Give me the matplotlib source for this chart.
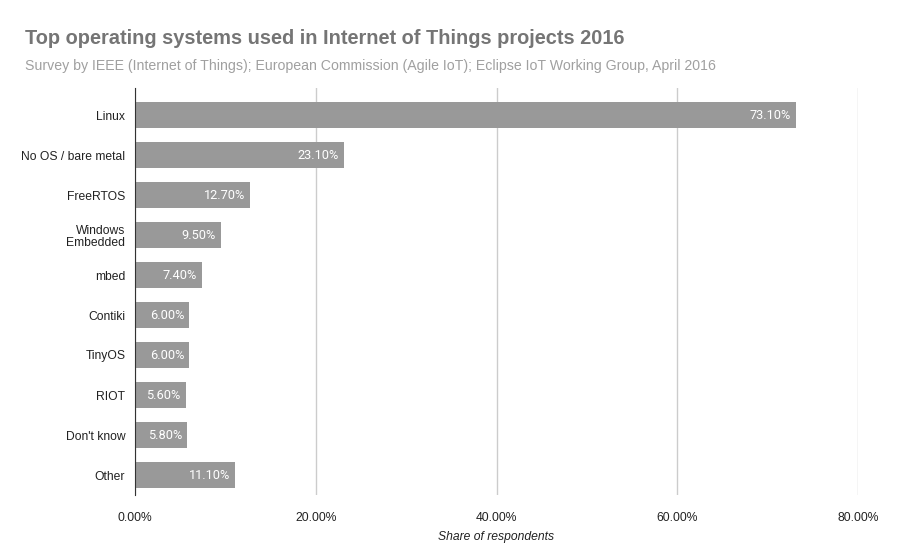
import matplotlib.pyplot as plt
from matplotlib.ticker import FuncFormatter

# --- Data ---
os_names = ['Linux', 'No OS / bare metal', 'FreeRTOS', 'Windows\nEmbedded', 'mbed',
            'Contiki', 'TinyOS', 'RIOT', "Don't know", 'Other']
share = [73.1, 23.1, 12.7, 9.5, 7.4, 6.0, 6.0, 5.6, 5.8, 11.1]

TITLE = 'Top operating systems used in Internet of Things projects 2016'
SUBTITLE = ('Survey by IEEE (Internet of Things); European Commission (Agile IoT); '
            'Eclipse IoT Working Group, April 2016')
BAR_COLOR = '#999999'

plt.rcParams['font.family'] = ['Liberation Sans', 'DejaVu Sans']

fig = plt.figure(figsize=(9.17, 5.6), dpi=100)
# plot area: x 135..858 px, y 88..495 px
ax = fig.add_axes([135 / 917, 1 - 495 / 560, 723 / 917, 407 / 560])

y = list(range(len(os_names)))
bars = ax.barh(y, share, height=0.65, color=BAR_COLOR, zorder=3)
ax.set_ylim(len(os_names) - 0.5, -0.675)
ax.set_xlim(0, 80)

# value labels inside the bar ends
for b, v in zip(bars, share):
    ax.text(b.get_width() - 0.55, b.get_y() + b.get_height() / 2 - 0.02, f'{v:.2f}%',
            ha='right', va='center_baseline', color='white', fontsize=9.2,
            family=['Roboto', 'DejaVu Sans'], zorder=4)

ax.set_yticks(y)
ax.set_yticklabels(os_names, fontsize=8.7, color='#222222', linespacing=1.1)
ax.set_xticks([0, 20, 40, 60, 80])
ax.xaxis.set_major_formatter(FuncFormatter(lambda v, p: f'{v:.2f}%'))
ax.tick_params(axis='x', labelsize=8.7, colors='#222222', length=0, pad=12)
ax.tick_params(axis='y', length=0, pad=7)
ax.grid(axis='x', color='#cccccc', linewidth=1, zorder=0)

for s in ['top', 'right', 'bottom']:
    ax.spines[s].set_visible(False)
ax.spines['left'].set_color('#333333')
ax.spines['left'].set_zorder(5)

ax.set_xlabel('Share of respondents', fontsize=8.7, style='italic', color='#222222', labelpad=5)

fig.text(25 / 917, 1 - 38 / 560, TITLE, fontsize=14.4, fontweight='bold', color='#757575', va='center')
fig.text(25 / 917, 1 - 66 / 560, SUBTITLE, fontsize=10.15, color='#a0a0a0', va='center')

fig.savefig('out.png', dpi=100)
